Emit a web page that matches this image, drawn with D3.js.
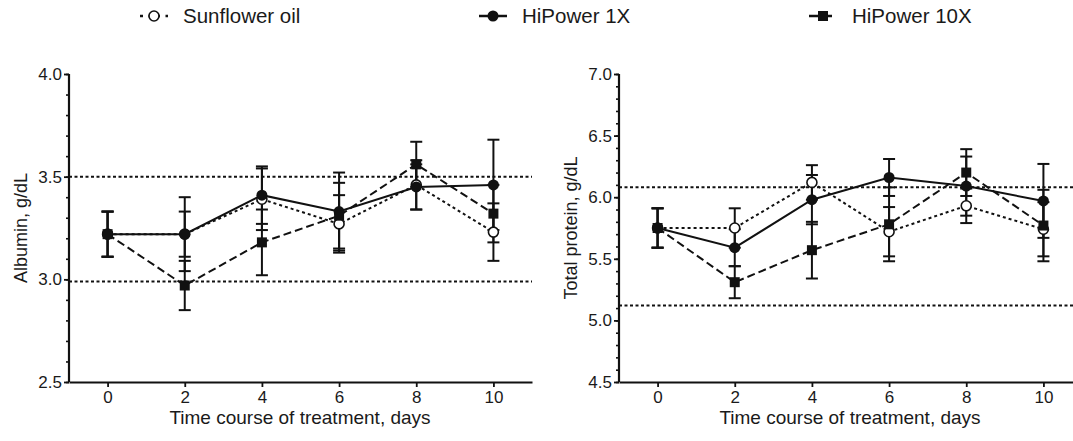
<!DOCTYPE html>
<html>
<head>
<meta charset="utf-8">
<script src="https://cdn.jsdelivr.net/npm/d3@7"></script>
<style>
  body { margin: 0; background: #fff; }
  text { font-family: "Liberation Sans", Arial, sans-serif; fill: #1a1a1a; }
</style>
</head>
<body>
<svg id="chart"></svg>
<script>
var w = 1073;
var h = 441;

// data (mean and error per day)
let days = [0, 2, 4, 6, 8, 10];
let xTicks = [0, 2, 4, 6, 8, 10];

let albSunflower = [3.22, 3.22, 3.39, 3.27, 3.46, 3.23];
let albSunflowerErr = [0.11, 0.18, 0.15, 0.14, 0.12, 0.14];
let alb1X = [3.22, 3.22, 3.41, 3.33, 3.45, 3.46];
let alb1XErr = [0.11, 0.11, 0.14, 0.19, 0.11, 0.22];
let alb10X = [3.22, 2.97, 3.18, 3.31, 3.56, 3.32];
let alb10XErr = [0.11, 0.12, 0.16, 0.16, 0.11, 0.14];
let albRef = [2.99, 3.5];
let albTicks = [2.5, 3.0, 3.5, 4.0];

let protSunflower = [5.75, 5.75, 6.12, 5.72, 5.93, 5.74];
let protSunflowerErr = [0.16, 0.16, 0.14, 0.20, 0.14, 0.22];
let prot1X = [5.75, 5.59, 5.98, 6.16, 6.09, 5.97];
let prot1XErr = [0.16, 0.15, 0.20, 0.15, 0.24, 0.30];
let prot10X = [5.75, 5.31, 5.57, 5.78, 6.20, 5.77];
let prot10XErr = [0.16, 0.13, 0.23, 0.30, 0.19, 0.29];
let protRef = [5.12, 6.08];
let protTicks = [4.5, 5.0, 5.5, 6.0, 6.5, 7.0];

let seriesNames = ["Sunflower oil", "HiPower 1X", "HiPower 10X"];

// style per series: dash pattern + marker
let styles = [
    { dash: "3,3", marker: "open" },
    { dash: null, marker: "circle" },
    { dash: "8,4", marker: "square" }
];

var svg = d3.select("#chart")
    .attr("width", w)
    .attr("height", h);

//draw one panel
function panel(opts) {
    var x = d3.scaleLinear().domain([-1, 11]).range([opts.left, opts.left + 463]);
    var y = d3.scaleLinear().domain(opts.ydomain).range([382, 74]);
    var g = svg.append("g");

    // reference lines
    g.selectAll(".ref")
        .data(opts.ref)
        .enter()
        .append("line")
        .attr("x1", opts.left)
        .attr("x2", opts.refEnd)
        .attr("y1", d => y(d))
        .attr("y2", d => y(d))
        .attr("stroke", "#111")
        .attr("stroke-width", 2)
        .attr("stroke-dasharray", "3,2.5");

    // minor y ticks
    var minor = d3.range(opts.ydomain[0], opts.ydomain[1] + 0.001, 0.1);
    g.append("g")
        .attr("transform", `translate(${opts.left},0)`)
        .call(d3.axisLeft(y).tickValues(minor).tickSize(3).tickFormat(""))
        .call(a => a.select(".domain").remove())
        .call(a => a.selectAll("line").attr("stroke", "#111").attr("stroke-width", 1.6));

    // y axis
    var ya = g.append("g")
        .attr("transform", `translate(${opts.left},0)`)
        .call(d3.axisLeft(y).tickValues(opts.ticks).tickSize(5).tickPadding(2).tickFormat(d3.format(".1f")));
    ya.select(".domain").attr("stroke", "#111").attr("stroke-width", 2.2).attr("d", `M0,${y(opts.ydomain[1])}V382`);
    ya.selectAll("line").attr("stroke", "#111").attr("stroke-width", 1.8);
    ya.selectAll("text").style("font-size", "17px").attr("fill", "#1a1a1a");

    // x axis
    var xa = g.append("g")
        .attr("transform", "translate(0,382)")
        .call(d3.axisBottom(x).tickValues(xTicks).tickSize(5).tickPadding(4).tickSizeOuter(0));
    xa.select(".domain").attr("stroke", "#111").attr("stroke-width", 2.2);
    xa.selectAll("line").attr("stroke", "#111").attr("stroke-width", 1.8);
    xa.selectAll("text").style("font-size", "17px").attr("fill", "#1a1a1a");

    // axis titles
    g.append("text")
        .attr("x", opts.left + 231)
        .attr("y", 424)
        .attr("text-anchor", "middle")
        .style("font-size", "19px")
        .text("Time course of treatment, days");
    g.append("text")
        .attr("transform", `translate(${opts.left - 42},228) rotate(-90)`)
        .attr("text-anchor", "middle")
        .style("font-size", "18px")
        .text(opts.ylabel);

    // error bars
    opts.series.forEach((s, si) => {
        var eb = g.append("g");
        days.forEach((d, i) => {
            var cx = x(d), lo = y(s.mean[i] - s.err[i]), hi = y(s.mean[i] + s.err[i]);
            eb.append("line").attr("x1", cx).attr("x2", cx).attr("y1", lo).attr("y2", hi)
                .attr("stroke", "#111").attr("stroke-width", 2);
            [lo, hi].forEach(v => {
                eb.append("line").attr("x1", cx - 6).attr("x2", cx + 6).attr("y1", v).attr("y2", v)
                    .attr("stroke", "#111").attr("stroke-width", 2);
            });
        });
    });

    // lines
    var line = d3.line().x((d, i) => x(days[i])).y(d => y(d));
    opts.series.forEach((s, si) => {
        g.append("path")
            .attr("d", line(s.mean))
            .attr("fill", "none")
            .attr("stroke", "#111")
            .attr("stroke-width", 2)
            .attr("stroke-dasharray", styles[si].dash);
    });

    // markers
    opts.series.forEach((s, si) => {
        s.mean.forEach((v, i) => marker(g, styles[si].marker, x(days[i]), y(v)));
    });
}

function marker(g, type, cx, cy) {
    if (type == "square") {
        g.append("rect").attr("x", cx - 5).attr("y", cy - 5).attr("width", 10).attr("height", 10)
            .attr("fill", "#111");
    } else if (type == "circle") {
        g.append("circle").attr("cx", cx).attr("cy", cy).attr("r", 5.5).attr("fill", "#111");
    } else {
        g.append("circle").attr("cx", cx).attr("cy", cy).attr("r", 5).attr("fill", "#fff")
            .attr("stroke", "#111").attr("stroke-width", 1.6);
    }
}

panel({
    left: 69,
    refEnd: 532,
    ydomain: [2.5, 4.0],
    ticks: albTicks,
    ref: albRef,
    ylabel: "Albumin, g/dL",
    series: [
        { mean: albSunflower, err: albSunflowerErr },
        { mean: alb1X, err: alb1XErr },
        { mean: alb10X, err: alb10XErr }
    ]
});

panel({
    left: 619,
    refEnd: 1073,
    ydomain: [4.5, 7.0],
    ticks: protTicks,
    ref: protRef,
    ylabel: "Total protein, g/dL",
    series: [
        { mean: protSunflower, err: protSunflowerErr },
        { mean: prot1X, err: prot1XErr },
        { mean: prot10X, err: prot10XErr }
    ]
});

// legend
let legendX = [154, 493, 823];
var lg = svg.append("g");
seriesNames.forEach((name, i) => {
    var cx = legendX[i];
    lg.append("line")
        .attr("x1", cx - 14).attr("x2", cx + 14)
        .attr("y1", 16).attr("y2", 16)
        .attr("stroke", "#111").attr("stroke-width", 2.5)
        .attr("stroke-dasharray", i == 0 ? "3,5.5" : (i == 2 ? "9,5" : null));
    marker(lg, styles[i].marker, cx, 16);
    lg.append("text")
        .attr("x", cx + 29)
        .attr("y", 23)
        .style("font-size", "20.5px")
        .text(name);
});
</script>
</body>
</html>
